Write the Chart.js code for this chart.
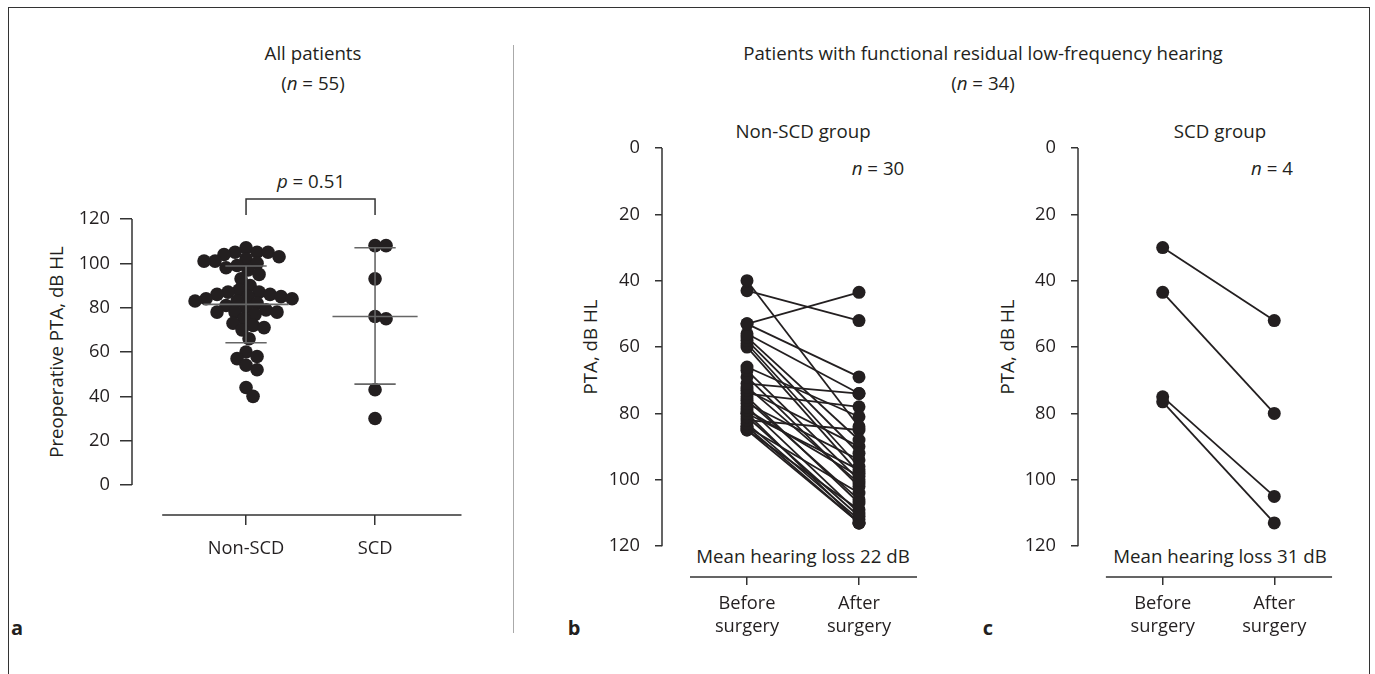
<!DOCTYPE html>
<html>
<head>
<meta charset="utf-8">
<script src="https://cdn.jsdelivr.net/npm/chart.js@4.4.1/dist/chart.umd.min.js"></script>
<style>
  body { margin: 0; width: 1375px; height: 674px; position: relative; overflow: hidden; background: #fff;
         font-family: "Open Sans", sans-serif; color: #231f20; }
  .frame { position: absolute; left: 8px; top: 7px; width: 1360px; height: 700px;
           border: 1.5px solid #333; border-bottom: none; }
  .divider { position: absolute; left: 513px; top: 45px; width: 1px; height: 588px; background: #aaa; }
  .t { position: absolute; font-size: 18.7px; white-space: nowrap; transform: translate(-50%, -50%); }
  .rot { transform: translate(-50%, -50%) rotate(-90deg); }
  .lab { font-weight: bold; font-size: 20px; }
  canvas { position: absolute; top: 0; }
</style>
</head>
<body>
<div class="frame"></div>
<div class="divider"></div>

<div class="t" style="left:313px;top:52px">All patients</div>
<div class="t" style="left:313px;top:82px">(<i>n</i> = 55)</div>
<div class="t" style="left:983px;top:52px">Patients with functional residual low-frequency hearing</div>
<div class="t" style="left:983px;top:82px">(<i>n</i> = 34)</div>
<div class="t" style="left:311px;top:180px"><i>p</i> = 0.51</div>
<div class="t" style="left:803px;top:130px">Non-SCD group</div>
<div class="t" style="left:1220px;top:130px">SCD group</div>
<div class="t" style="left:878px;top:167px"><i>n</i> = 30</div>
<div class="t" style="left:1272px;top:167px"><i>n</i> = 4</div>
<div class="t" style="left:803px;top:555px">Mean hearing loss 22 dB</div>
<div class="t" style="left:1220px;top:555px">Mean hearing loss 31 dB</div>
<div class="t rot" style="left:55px;top:352px">Preoperative PTA, dB HL</div>
<div class="t rot" style="left:589px;top:347px">PTA, dB HL</div>
<div class="t rot" style="left:1006px;top:347px">PTA, dB HL</div>
<div class="t lab" style="left:17px;top:627px">a</div>
<div class="t lab" style="left:574px;top:627px">b</div>
<div class="t lab" style="left:988px;top:627px">c</div>

<canvas id="ca" width="513" height="674" style="left:0"></canvas>
<canvas id="cb" width="440" height="674" style="left:513px"></canvas>
<canvas id="cc" width="422" height="674" style="left:953px"></canvas>

<script>
// ---- data ----
const groupsA = ['Non-SCD', 'SCD'];
const nonScd = [107, 105, 105, 105, 104, 103, 102, 101, 101, 100, 99, 98, 97, 95, 93, 90,
                88, 87, 87, 86, 86, 85, 85, 84, 84, 83, 83, 82, 81, 80, 79, 78, 78, 78,
                77, 75, 73, 72, 71, 70, 66, 60, 58, 57, 54, 52, 44, 40];
const scd = [108, 108, 93, 76, 75, 43, 30];
const centreA = [81.5, 76];
const lowA = [64.2, 45.5];
const highA = [98.8, 107];
const yTicksA = [0, 20, 40, 60, 80, 100, 120];

const stages = [['Before', 'surgery'], ['After', 'surgery']];
const beforeB = [40, 43, 53, 53, 56, 57, 58, 59, 60, 66, 67, 69, 71, 72, 73,
                 74, 75, 76, 77, 78, 79, 80, 80, 81, 82, 83, 84, 84, 85, 85];
const afterB = [84, 52, 43.5, 69, 74, 88, 92, 96, 98, 81, 100, 102, 74, 101, 90,
                78, 107, 106, 94, 110, 99, 113, 97, 111, 85, 112, 113, 104, 109, 113];
const beforeC = [30, 43.5, 75, 76.5];
const afterC = [52, 80, 105, 113];
const yTicksBC = [0, 20, 40, 60, 80, 100, 120];

const ink = '#231f20';
const axisCol = '#333';
const font = { family: 'Open Sans', size: 18.3 };

// axis lines that stop short of the corner, plus the p-value bracket
const offsetAxes = {
  id: 'offsetAxes',
  beforeDatasetsDraw(chart, args, o) {
    const { ctx, chartArea } = chart;
    const x = chart.scales.x, y = chart.scales.y;
    ctx.save();
    ctx.strokeStyle = axisCol;
    ctx.lineWidth = 1.5;
    ctx.beginPath();
    ctx.moveTo(chartArea.left, y.getPixelForValue(o.yFrom));
    ctx.lineTo(chartArea.left, y.getPixelForValue(o.yTo));
    ctx.moveTo(x.getPixelForValue(o.xFrom), chartArea.bottom);
    ctx.lineTo(x.getPixelForValue(o.xTo), chartArea.bottom);
    if (o.bracket) {
      const x1 = x.getPixelForValue(1), x2 = x.getPixelForValue(2);
      ctx.moveTo(x1, y.getPixelForValue(o.bracket[0]));
      ctx.lineTo(x1, y.getPixelForValue(o.bracket[1]));
      ctx.lineTo(x2, y.getPixelForValue(o.bracket[1]));
      ctx.lineTo(x2, y.getPixelForValue(o.bracket[0]));
    }
    ctx.stroke();
    ctx.restore();
  }
};

function opts(c) {
  return {
    responsive: false,
    animation: false,
    layout: { padding: c.pad },
    plugins: { legend: { display: false }, tooltip: { enabled: false }, offsetAxes: c.axes },
    scales: {
      x: {
        type: 'linear', min: c.xMin, max: c.xMax,
        afterBuildTicks: s => { s.ticks = [{ value: 1 }, { value: 2 }]; },
        afterFit: s => { s.height = 60; },
        border: { display: false },
        grid: { drawOnChartArea: false, tickLength: c.xTick, color: axisCol, lineWidth: 1.5 },
        ticks: { autoSkip: false, maxRotation: 0, padding: c.xPad, color: ink,
                 font: Object.assign({}, font, { lineHeight: '23px' }),
                 callback: (v, i) => c.labels[i] }
      },
      y: {
        reverse: c.reverse, min: c.yMin, max: c.yMax,
        afterBuildTicks: s => { s.ticks = c.yTicks.map(v => ({ value: v })); },
        afterFit: s => { s.width = c.yw; },
        border: { display: false },
        grid: { drawOnChartArea: false, tickLength: c.yTick, color: axisCol, lineWidth: 1.5 },
        ticks: { padding: c.yPad, color: ink, font: font }
      }
    }
  };
}

// ---- panel a ----
const barSets = [];
[0, 1].forEach(i => {
  const cx = i + 1;
  const seg = (a, b) => barSets.push({
    data: [a, b], showLine: true, pointRadius: 0, borderColor: '#666', borderWidth: 1.6, order: 0, clip: false
  });
  seg({ x: cx - 0.33, y: centreA[i] }, { x: cx + 0.33, y: centreA[i] });
  seg({ x: cx - 0.16, y: lowA[i] }, { x: cx + 0.16, y: lowA[i] });
  seg({ x: cx - 0.16, y: highA[i] }, { x: cx + 0.16, y: highA[i] });
  seg({ x: cx, y: lowA[i] }, { x: cx, y: highA[i] });
});

const chartA = new Chart(document.getElementById('ca'), {
  type: 'scatter',
  data: {
    datasets: barSets.concat([{
      data: [], pointRadius: 6.8, pointBackgroundColor: ink, pointBorderWidth: 0, order: 1, clip: false
    }])
  },
  options: opts({
    pad: { left: 0, top: 219, right: 43, bottom: 99 },
    xMin: 0.116, xMax: 2.736, yMin: -13.53, yMax: 120, reverse: false,
    yw: 132, yTick: 12, yPad: 10, xTick: 10, xPad: 12.5,
    yTicks: yTicksA, labels: groupsA,
    axes: { yFrom: 0, yTo: 120, xFrom: 0.35, xTo: 2.67, bracket: [121.8, 129] }
  }),
  plugins: [offsetAxes]
});

// beeswarm placement of the dots around each category, done in pixel space
function swarm(chart, groups, gap) {
  const xs = chart.scales.x, ys = chart.scales.y;
  const pts = [];
  groups.forEach((vals, gi) => {
    const cx = xs.getPixelForValue(gi + 1);
    const placed = [];
    vals.slice().sort((a, b) => b - a).forEach(v => {
      const py = ys.getPixelForValue(v);
      let off = 0;
      for (let k = 0; k < 200; k++) {
        off = (k % 2 ? 1 : -1) * Math.ceil(k / 2);
        const ok = placed.every(p => Math.hypot(p[0] - (cx + off), p[1] - py) >= gap);
        if (ok) break;
      }
      placed.push([cx + off, py]);
      pts.push({ x: xs.getValueForPixel(cx + off), y: v });
    });
  });
  chart.data.datasets[chart.data.datasets.length - 1].data = pts;
  chart.update('none');
}
swarm(chartA, [nonScd, scd], 11);

// ---- panels b and c ----
function pairChart(id, before, after, pad, yw) {
  const sets = before.map((b, i) => ({
    data: [{ x: 1, y: b }, { x: 2, y: after[i] }],
    showLine: true, borderColor: ink, borderWidth: 1.8,
    pointRadius: 6.5, pointBackgroundColor: ink, pointBorderWidth: 0, clip: false
  }));
  return new Chart(document.getElementById(id), {
    type: 'scatter',
    data: { datasets: sets },
    options: opts({
      pad: pad,
      xMin: 0.241, xMax: 2.634, yMin: 0, yMax: 129.3, reverse: true,
      yw: yw, yTick: 7, yPad: 15, xTick: 8, xPad: 7.5,
      yTicks: yTicksBC, labels: stages,
      axes: { yFrom: 0, yTo: 120, xFrom: 0.491, xTo: 2.518 }
    }),
    plugins: [offsetAxes]
  });
}
pairChart('cb', beforeB, afterB, { left: 0, top: 148, right: 23, bottom: 37 }, 149);
pairChart('cc', beforeC, afterC, { left: 0, top: 148, right: 30, bottom: 37 }, 125);
</script>
</body>
</html>
